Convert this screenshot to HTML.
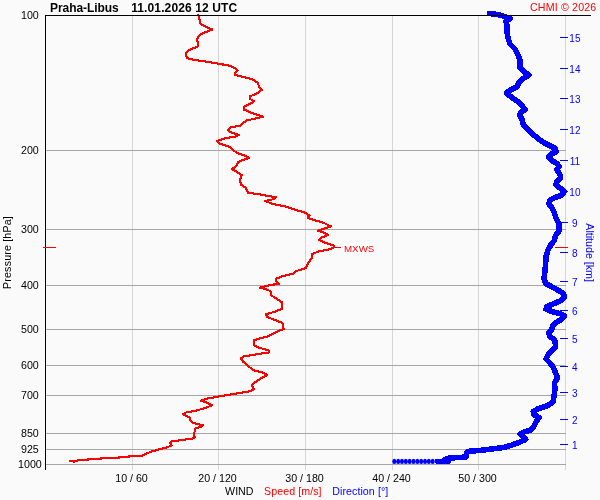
<!DOCTYPE html>
<html><head><meta charset="utf-8"><title>Praha-Libus wind</title>
<style>
html,body{margin:0;padding:0;background:#fafafa;}
svg{display:block;}
text{font-family:"Liberation Sans",Arial,sans-serif;font-size:10.67px;fill:#000;}
</style></head><body>
<svg width="600" height="500" viewBox="0 0 600 500">
<rect x="0" y="0" width="600" height="500" fill="#fafafa"/>
<g shape-rendering="crispEdges">
<rect x="132" y="16" width="1" height="454" fill="#d6d6d6"/><rect x="218" y="16" width="1" height="454" fill="#d6d6d6"/><rect x="305" y="16" width="1" height="454" fill="#d6d6d6"/><rect x="392" y="16" width="1" height="454" fill="#d6d6d6"/><rect x="478" y="16" width="1" height="454" fill="#d6d6d6"/><rect x="565" y="16" width="1" height="454" fill="#d6d6d6"/><rect x="46" y="150" width="520" height="1" fill="#a6a6a6"/><rect x="46" y="229" width="520" height="1" fill="#a6a6a6"/><rect x="46" y="285" width="520" height="1" fill="#a6a6a6"/><rect x="46" y="329" width="520" height="1" fill="#a6a6a6"/><rect x="46" y="365" width="520" height="1" fill="#a6a6a6"/><rect x="46" y="395" width="520" height="1" fill="#a6a6a6"/><rect x="46" y="433" width="520" height="1" fill="#a6a6a6"/><rect x="46" y="449" width="520" height="1" fill="#a6a6a6"/><rect x="46" y="464" width="520" height="1" fill="#a6a6a6"/>
<rect x="555" y="247" width="13" height="1" fill="#ff0000"/>
<rect x="560" y="444" width="8" height="1" fill="#0000ff"/><rect x="560" y="419" width="8" height="1" fill="#0000ff"/><rect x="560" y="392" width="8" height="1" fill="#0000ff"/><rect x="560" y="366" width="8" height="1" fill="#0000ff"/><rect x="560" y="338" width="8" height="1" fill="#0000ff"/><rect x="560" y="310" width="8" height="1" fill="#0000ff"/><rect x="560" y="281" width="8" height="1" fill="#0000ff"/><rect x="560" y="252" width="8" height="1" fill="#0000ff"/><rect x="560" y="222" width="8" height="1" fill="#0000ff"/><rect x="560" y="191" width="8" height="1" fill="#0000ff"/><rect x="560" y="160" width="8" height="1" fill="#0000ff"/><rect x="560" y="129" width="8" height="1" fill="#0000ff"/><rect x="560" y="98" width="8" height="1" fill="#0000ff"/><rect x="560" y="68" width="8" height="1" fill="#0000ff"/><rect x="560" y="37" width="8" height="1" fill="#0000ff"/>
</g>
<text y="11.7" style="font-size:12px;font-weight:bold"><tspan x="50" style="letter-spacing:-0.06px">Praha-Libus</tspan><tspan x="131.2" style="letter-spacing:0.12px">11.01.2026 12 UTC</tspan></text>
<text x="530" y="10.8" style="fill:#ff0000;letter-spacing:0.15px">CHMI © 2026</text>
<text x="29.9" y="19.4" text-anchor="middle">100</text><text x="29.9" y="154.4" text-anchor="middle">200</text><text x="29.9" y="233.4" text-anchor="middle">300</text><text x="29.9" y="289.4" text-anchor="middle">400</text><text x="29.9" y="333.4" text-anchor="middle">500</text><text x="29.9" y="369.4" text-anchor="middle">600</text><text x="29.9" y="399.4" text-anchor="middle">700</text><text x="29.9" y="437.4" text-anchor="middle">850</text><text x="29.9" y="453.4" text-anchor="middle">925</text><text x="29.9" y="468.4" text-anchor="middle">1000</text><text x="131.5" y="481.8" text-anchor="middle">10 / 60</text><text x="217.5" y="481.8" text-anchor="middle">20 / 120</text><text x="304.5" y="481.8" text-anchor="middle">30 / 180</text><text x="391.5" y="481.8" text-anchor="middle">40 / 240</text><text x="477.5" y="481.8" text-anchor="middle">50 / 300</text>
<g style="font-size:10px"><text x="574.9" y="448.7" text-anchor="middle" style="fill:#0000ff;font-size:10px">1</text><text x="574.9" y="423.7" text-anchor="middle" style="fill:#0000ff;font-size:10px">2</text><text x="574.9" y="396.7" text-anchor="middle" style="fill:#0000ff;font-size:10px">3</text><text x="574.9" y="370.7" text-anchor="middle" style="fill:#0000ff;font-size:10px">4</text><text x="574.9" y="342.7" text-anchor="middle" style="fill:#0000ff;font-size:10px">5</text><text x="574.9" y="314.7" text-anchor="middle" style="fill:#0000ff;font-size:10px">6</text><text x="574.9" y="285.7" text-anchor="middle" style="fill:#0000ff;font-size:10px">7</text><text x="574.9" y="256.7" text-anchor="middle" style="fill:#0000ff;font-size:10px">8</text><text x="574.9" y="226.7" text-anchor="middle" style="fill:#0000ff;font-size:10px">9</text><text x="574.9" y="195.7" text-anchor="middle" style="fill:#0000ff;font-size:10px">10</text><text x="574.9" y="164.7" text-anchor="middle" style="fill:#0000ff;font-size:10px">11</text><text x="574.9" y="133.7" text-anchor="middle" style="fill:#0000ff;font-size:10px">12</text><text x="574.9" y="102.7" text-anchor="middle" style="fill:#0000ff;font-size:10px">13</text><text x="574.9" y="72.7" text-anchor="middle" style="fill:#0000ff;font-size:10px">14</text><text x="574.9" y="41.7" text-anchor="middle" style="fill:#0000ff;font-size:10px">15</text></g>
<text transform="translate(11.4,289) rotate(-90)" style="letter-spacing:0.18px">Pressure [hPa]</text>
<text transform="translate(586,223.3) rotate(90)" style="fill:#0000ff">Altitude [km]</text>
<text x="225.1" y="495.4">WIND</text>
<text x="264" y="495.4" style="fill:#ff0000;letter-spacing:0.07px">Speed [m/s]</text>
<text x="332.2" y="495.4" style="fill:#0000ff;letter-spacing:0.07px">Direction [°]</text>
<polyline shape-rendering="crispEdges" fill="none" stroke="#ff0000" stroke-width="2.15" stroke-linejoin="round" stroke-linecap="round" points="198.3,14.6 199.4,19 200.6,24 205,26.4 212.4,29.6 207,31.6 201,34 198,37 197,40 198,43 198,46.4 193,48.4 188,50.6 185.6,54 187,58 193,59.6 206,61.6 218,63.6 229,65.6 235,68 237.6,70.6 235,73 235.4,75 244,77 253,79.6 258,83 259,87 261.6,90 258,93 250,96.4 250,99 254,101 251,103.5 244.6,106.4 244,109.6 252,113 263,116.6 256,118.4 247,120.4 243,123 240,125.6 231,127.4 228,130 231,132.4 239,135 235,136.6 225,138.4 217.4,141 220,143.6 229,146.6 233,150 237,153 246,156 249,158 243,160 238,162 236.4,166 232,169 237,172 241.6,175 240,180 241,184.6 246,188 248,192.7 259,194.3 276,197.4 273,199.3 265,201 273,204 286,206.6 296,210 305,212.6 309.6,215.6 307.6,218 314,220 323,222.6 331,226.4 324,228.6 318,230.6 324,232.6 328,235 322,237.4 319,239.6 324,242.4 334,245.5 334.3,247.2 329,249.4 318,251.6 311.6,254.4 311.6,258.4 308,263 306,268 296.5,271 293,273.6 282.5,276.2 276,278.8 276.4,281.6 279,283.6 268,285.6 260,287.6 265,289 270.4,291 271.6,295.6 277,299 281.6,302 281.6,309 275,311.6 266,314.4 267,317 275,320 282.4,323 283.6,329 276,332 269,336 260,338.4 253.6,340.6 254.5,345.3 258.5,347.5 268.5,350.4 269,352.4 257,354.2 244,356.4 241,358.4 243,361.6 248,366 254,370.4 262,372.4 267.4,375 260,379 255,382.4 251.6,385 254,389 251,391 240,393 224,395.6 208,398.4 201,400.6 207.5,403 212,405.2 205,408.2 195.5,410.7 186,412.5 183.2,414.3 189.5,417.5 191,421.5 193,423 202.8,425.3 201,426.6 195.6,428.6 194.6,431.6 194,434 194.6,437.4 192,438.6 180,440.3 172,441.4 170.3,443.2 171.5,445.5 167,447.3 158,449.7 150,452 145,454.4 142,455.8 130,456.4 118,457.6 102,458.4 90,459.4 79,460 74,461.6 69.6,461"/>
<rect x="335" y="247" width="6" height="1" fill="#ff0000" shape-rendering="crispEdges"/>
<rect x="343" y="242.5" width="32" height="10.5" fill="#ffffff"/>
<text x="344" y="251.5" style="font-size:9.75px;fill:#ff0000">MXWS</text>
<g fill="#0000ff"><ellipse cx="394.30" cy="461.4" rx="2.05" ry="2.55"/><ellipse cx="398.14" cy="461.4" rx="2.05" ry="2.55"/><ellipse cx="401.98" cy="461.4" rx="2.05" ry="2.55"/><ellipse cx="405.82" cy="461.4" rx="2.05" ry="2.55"/><ellipse cx="409.66" cy="461.4" rx="2.05" ry="2.55"/><ellipse cx="413.50" cy="461.4" rx="2.05" ry="2.55"/><ellipse cx="417.34" cy="461.4" rx="2.05" ry="2.55"/><ellipse cx="421.18" cy="461.4" rx="2.05" ry="2.55"/><ellipse cx="425.02" cy="461.4" rx="2.05" ry="2.55"/><ellipse cx="428.86" cy="461.4" rx="2.05" ry="2.55"/><ellipse cx="432.70" cy="461.4" rx="2.05" ry="2.55"/></g>
<polyline shape-rendering="crispEdges" fill="none" stroke="#0000ff" stroke-width="5.6" stroke-linejoin="round" stroke-linecap="round" points="489.6,13.4 500,15 510,18.4 506,21.6 507,26 507,32 508,38 510,44 515,49 518,55 520,60 520,68 524,71.6 529,75 524,78 519,82 517,87 511,89.6 506.6,92.8 510.5,96.5 517,101 522,105.6 525,109.6 521,112 519.4,115 522,119 523,124 527,129 533,134.4 540,140 547,144.4 555,148 556,151.6 551,154.4 548.6,157 551,160 557,163.6 559,166.4 557,169.6 559,173 560.5,176 560,179 557,181 556,185 560,188 564,191.6 562,195 555,197.6 550,200 549,204 552,208 553.6,210.8 556,218 559.2,224.4 559.2,230.8 555.5,235.6 554.4,240.4 551.2,244.4 548,250 546,256.4 545.6,264.4 544.8,272.4 544,278.8 545.6,283.6 551.5,286.6 557,289.6 563.6,293.6 564.6,297 560,301 553,304 547,306.6 546,309 552,311.6 560,313.6 564.6,316 562,319 557,322 553,325 552,329 549,332.5 549.5,336 554,339.5 555,341 555.6,347 551,351 548,355 546,359 550,363 553.6,368 555.6,373 557.6,378 554.4,383 555,389 554,396 553,402 547,405.8 538.5,408.6 533.3,411.5 533.6,414.4 539,417.6 536,422 533.6,427 531,430 525,431.6 520.3,434 523,437 525.6,439.4 520,442 512,445 504,447.4 492,449 480,450.5 470,451 467,452 466.5,454 466,457 460,457.5 455,457.7 449,458 445,459.5 448.3,461.4 448,461.4 444,461.4 440,461.4 437.6,461.4"/>
<g shape-rendering="crispEdges"><rect x="45" y="15" width="546" height="1" fill="#000"/><rect x="45" y="15" width="1" height="455" fill="#000"/><rect x="43" y="247" width="13" height="1" fill="#ff0000"/></g>
</svg>
</body></html>
